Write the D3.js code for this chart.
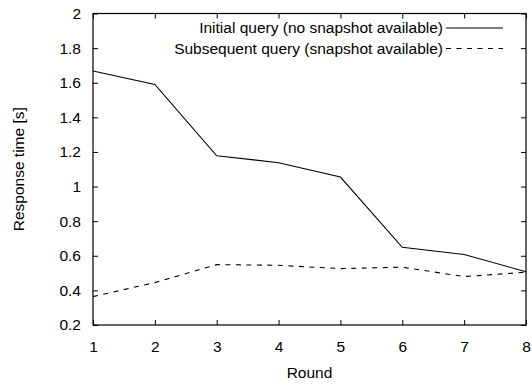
<!DOCTYPE html>
<html>
<head>
<meta charset="utf-8">
<script src="https://cdn.jsdelivr.net/npm/d3@7"></script>
<style>
  body { margin: 0; background: #fff; }
  text { font-family: "Liberation Sans", Arial, sans-serif; fill: #000; }
</style>
</head>
<body>
<svg id="chart"></svg>
<script>
const rounds = [1, 2, 3, 4, 5, 6, 7, 8];
const initialQuery = [1.668, 1.59, 1.178, 1.138, 1.055, 0.649, 0.607, 0.508];
const subsequentQuery = [0.364, 0.445, 0.549, 0.545, 0.526, 0.534, 0.48, 0.505];
const yTicks = [0.2, 0.4, 0.6, 0.8, 1, 1.2, 1.4, 1.6, 1.8, 2];
const seriesNames = ['Initial query (no snapshot available)', 'Subsequent query (snapshot available)'];

const svgWidth = 532, svgHeight = 384;
const margin = {top: 13.5, right: 6, bottom: 59, left: 93};
const width = svgWidth - margin.left - margin.right;
const height = svgHeight - margin.top - margin.bottom;

const svg = d3.select('#chart')
  .attr('width', svgWidth)
  .attr('height', svgHeight);

const chart = svg.append('g')
  .attr('transform', `translate(${margin.left}, ${margin.top})`);

// scales
const xScale = d3.scaleLinear().domain([1, 8]).range([0, width]);
const yScale = d3.scaleLinear().domain([0.2, 2]).range([height, 0]);

// axes, gnuplot style: ticks pointing inward, mirrored
const tickLen = 5;
const fontSize = 15.5;

const styleAxis = (g) => {
  g.select('.domain').remove();
  g.selectAll('line').attr('stroke', '#000');
  g.selectAll('text').style('font-size', fontSize + 'px');
};

chart.append('g')
  .attr('transform', `translate(0, ${height})`)
  .call(d3.axisBottom(xScale).tickValues(rounds).tickFormat(d3.format('d'))
    .tickSizeInner(-tickLen).tickPadding(tickLen + 11))
  .call(styleAxis);

chart.append('g')
  .call(d3.axisTop(xScale).tickValues(rounds).tickFormat('').tickSizeInner(-tickLen))
  .call(styleAxis);

chart.append('g')
  .call(d3.axisLeft(yScale).tickValues(yTicks).tickFormat(d3.format('~g'))
    .tickSizeInner(-tickLen).tickPadding(tickLen + 7))
  .call(styleAxis);

chart.append('g')
  .attr('transform', `translate(${width}, 0)`)
  .call(d3.axisRight(yScale).tickValues(yTicks).tickFormat('').tickSizeInner(-tickLen))
  .call(styleAxis);

// frame
chart.append('rect')
  .attr('width', width)
  .attr('height', height)
  .attr('fill', 'none')
  .attr('stroke', '#000')
  .attr('stroke-width', 1.2);

// lines
const line = d3.line()
  .x((d, i) => xScale(rounds[i]))
  .y((d) => yScale(d));

const dashes = [null, '5,5.5'];
[initialQuery, subsequentQuery].forEach((series, k) => {
  chart.append('path')
    .datum(series)
    .attr('d', line)
    .attr('fill', 'none')
    .attr('stroke', '#000')
    .attr('stroke-width', 1.1)
    .attr('stroke-dasharray', dashes[k]);
});

// legend
const legend = chart.append('g');
seriesNames.forEach((name, k) => {
  const y = 14.5 + k * 20.5;
  legend.append('text')
    .attr('x', 350)
    .attr('y', y)
    .attr('dy', '0.35em')
    .attr('text-anchor', 'end')
    .style('font-size', fontSize + 'px')
    .text(name);
  legend.append('line')
    .attr('x1', 353).attr('x2', 410)
    .attr('y1', y).attr('y2', y)
    .attr('stroke', '#000')
    .attr('stroke-width', 1.1)
    .attr('stroke-dasharray', dashes[k]);
});

// axis labels
svg.append('text')
  .attr('x', margin.left + width / 2)
  .attr('y', 378)
  .attr('text-anchor', 'middle')
  .style('font-size', fontSize + 'px')
  .text('Round');

svg.append('text')
  .attr('transform', `translate(24, ${margin.top + height / 2}) rotate(-90)`)
  .attr('text-anchor', 'middle')
  .style('font-size', fontSize + 'px')
  .text('Response time [s]');
</script>
</body>
</html>
